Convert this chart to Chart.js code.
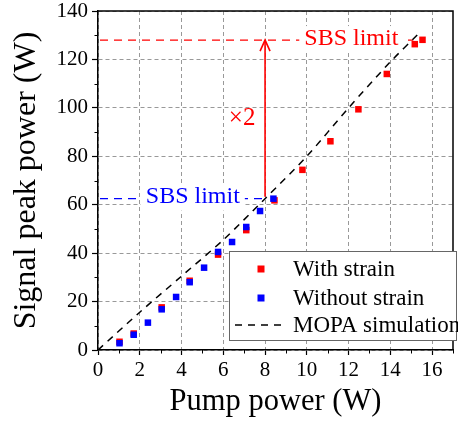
<!DOCTYPE html>
<html><head><meta charset="utf-8">
<script src="https://cdn.jsdelivr.net/npm/chart.js@4"></script>
<style>html,body{margin:0;padding:0;background:#fff;}canvas{display:block;}</style>
</head><body>
<canvas id="c" width="458" height="424"></canvas>
<script>
// ---- data ----
const strainPump    = [1.03, 1.71, 3.05, 4.39, 5.75, 7.10, 8.45, 9.79, 11.13, 12.47, 13.83, 15.17, 15.54];
const strainPower   = [3.4, 6.8, 17.6, 28.6, 39.4, 49.5, 61.8, 74.4, 86.2, 99.4, 114.0, 126.3, 128.1];
const noStrainPump  = [1.03, 1.71, 2.39, 3.05, 3.74, 4.39, 5.08, 5.75, 6.42, 7.10, 7.76, 8.40];
const noStrainPower = [2.8, 6.3, 11.3, 16.8, 21.9, 28.0, 34.0, 40.5, 44.6, 50.8, 57.4, 62.5];
const mopaPump      = [0, 2, 4, 6, 8, 10, 12, 14, 15.3];
const mopaPower     = [0, 15.6, 30.5, 45.5, 62.5, 80, 100, 119, 130.2];
const sbsLimitPower = [62.5, 128];      // without strain, with strain
const sbsLimitEndPump = [7.9, 15.1];
const sbsLabelPump  = [4.54, 12.13];
const arrowPump     = [8];
const gainText      = '×2';
const gainAt        = [6.9, 95.5];
const sbsText       = 'SBS limit';
const seriesNames   = ['With strain', 'Without strain', 'MOPA simulation'];
const xTickValues   = [0, 2, 4, 6, 8, 10, 12, 14, 16];
const yTickValues   = [0, 20, 40, 60, 80, 100, 120, 140];
const xMinorValues  = [1, 3, 5, 7, 9, 11, 13, 15, 17];
const yMinorValues  = [10, 30, 50, 70, 90, 110, 130];
const xTitle = 'Pump power (W)';
const yTitle = 'Signal peak power (W)';

const FONT = "'Liberation Serif', 'Times New Roman', serif";
const RED = '#ff0000', BLUE = '#0000ff';

const pts = (xs, ys) => xs.map((v, i) => ({x: v, y: ys[i]}));

const extras = {
  id: 'extras',
  beforeDatasetsDraw(chart) {
    const {ctx, scales: {x, y}} = chart;
    ctx.save();
    // minor ticks
    ctx.strokeStyle = '#000'; ctx.lineWidth = 1;
    xMinorValues.forEach(v => {
      const px = Math.round(x.getPixelForValue(v)) + 0.5;
      ctx.beginPath(); ctx.moveTo(px, y.bottom); ctx.lineTo(px, y.bottom + 3.5); ctx.stroke();
    });
    yMinorValues.forEach(v => {
      const py = Math.round(y.getPixelForValue(v)) + 0.5;
      ctx.beginPath(); ctx.moveTo(x.left, py); ctx.lineTo(x.left - 3.5, py); ctx.stroke();
    });
    // SBS limit lines and labels
    const cols = [BLUE, RED];
    sbsLimitPower.forEach((p, i) => {
      const py = y.getPixelForValue(p);
      ctx.strokeStyle = cols[i]; ctx.lineWidth = 1.3; ctx.setLineDash([8, 6]);
      ctx.beginPath(); ctx.moveTo(x.left + 2, py); ctx.lineTo(x.getPixelForValue(sbsLimitEndPump[i]), py); ctx.stroke();
      ctx.setLineDash([]);
      ctx.font = '24px ' + FONT;
      const w = ctx.measureText(sbsText).width;
      const cx = x.getPixelForValue(sbsLabelPump[i]);
      ctx.fillStyle = '#fff';
      ctx.fillRect(cx - w / 2 - 5, py - 14, w + 10, 26);
      ctx.fillStyle = cols[i]; ctx.textAlign = 'center'; ctx.textBaseline = 'middle';
      ctx.fillText(sbsText, cx, py - 1.5);
    });
    // arrow
    const ax = x.getPixelForValue(arrowPump[0]);
    const y0 = y.getPixelForValue(sbsLimitPower[0]), y1 = y.getPixelForValue(sbsLimitPower[1]);
    ctx.strokeStyle = RED; ctx.lineWidth = 1.6;
    ctx.beginPath(); ctx.moveTo(ax, y0 - 2); ctx.lineTo(ax, y1); ctx.stroke();
    ctx.beginPath(); ctx.moveTo(ax - 5, y1 + 11); ctx.lineTo(ax, y1); ctx.lineTo(ax + 5, y1 + 11); ctx.stroke();
    ctx.font = '25px ' + FONT; ctx.fillStyle = RED; ctx.textAlign = 'center'; ctx.textBaseline = 'middle';
    ctx.fillText(gainText, x.getPixelForValue(gainAt[0]), y.getPixelForValue(gainAt[1]));
    ctx.restore();
  },
  afterDraw(chart) {
    const {ctx, chartArea: a} = chart;
    ctx.save();
    // top and right frame
    ctx.strokeStyle = '#000'; ctx.lineWidth = 1.5;
    ctx.beginPath(); ctx.moveTo(a.left, a.top); ctx.lineTo(a.right, a.top); ctx.lineTo(a.right, a.bottom); ctx.stroke();
    // legend box
    const L = 229.5, T = 251.5, W = 227, H = 89;
    ctx.fillStyle = '#fff'; ctx.fillRect(L, T, W, H);
    ctx.strokeStyle = '#666'; ctx.lineWidth = 1; ctx.strokeRect(L, T, W, H);
    const ds = chart.data.datasets;
    const rows = [269, 298, 325];
    ctx.font = '23px ' + FONT; ctx.textAlign = 'left'; ctx.textBaseline = 'middle';
    ds.forEach((d, i) => {
      const cy = rows[i];
      if (d.showLine) {
        ctx.strokeStyle = d.borderColor; ctx.lineWidth = 1.5; ctx.setLineDash([7, 6]);
        ctx.beginPath(); ctx.moveTo(235, cy); ctx.lineTo(284, cy); ctx.stroke(); ctx.setLineDash([]);
      } else {
        ctx.fillStyle = d.backgroundColor; ctx.fillRect(257.5, cy - 3.5, 7, 7);
      }
      ctx.fillStyle = '#000';
      ctx.fillText(d.label, 293, cy + 1);
    });
    ctx.restore();
  }
};

new Chart(document.getElementById('c'), {
  type: 'scatter',
  data: {
    datasets: [
      {label: seriesNames[0], data: pts(strainPump, strainPower), backgroundColor: RED, borderColor: RED,
       pointStyle: 'rect', pointRadius: 4.6, borderWidth: 0, order: 2},
      {label: seriesNames[1], data: pts(noStrainPump, noStrainPower), backgroundColor: BLUE, borderColor: BLUE,
       pointStyle: 'rect', pointRadius: 4.6, borderWidth: 0, order: 1},
      {label: seriesNames[2], data: pts(mopaPump, mopaPower), showLine: true, borderColor: '#000', backgroundColor: '#000',
       borderWidth: 1.5, borderDash: [7, 6], pointRadius: 0, tension: 0.3, order: 3}
    ]
  },
  options: {
    responsive: false, animation: false, devicePixelRatio: 1,
    layout: {padding: {top: 11, right: 5, left: 0, bottom: 0}},
    plugins: {legend: {display: false}, tooltip: {enabled: false}},
    scales: {
      x: {
        type: 'linear', min: 0, max: 17,
        afterBuildTicks: s => { s.ticks = xTickValues.map(v => ({value: v})); },
        afterFit: s => { s.height = 74; s.paddingLeft = 0; s.paddingRight = 0; },
        ticks: {font: {family: FONT, size: 21}, color: '#000', padding: 3, maxRotation: 0},
        grid: {color: '#999', lineWidth: 1, tickLength: 5, tickColor: '#000', tickWidth: 1.2},
        border: {color: '#000', width: 1.5, dash: [4, 3]},
        title: {display: true, text: xTitle, font: {family: FONT, size: 30.5}, color: '#000', padding: {top: 0, bottom: 4}}
      },
      y: {
        type: 'linear', min: 0, max: 140,
        afterBuildTicks: s => { s.ticks = yTickValues.map(v => ({value: v})); },
        afterFit: s => { s.width = 98; s.paddingTop = 0; s.paddingBottom = 0; },
        ticks: {font: {family: FONT, size: 21}, color: '#000', padding: 4},
        grid: {color: '#999', lineWidth: 1, tickLength: 6, tickColor: '#000', tickWidth: 1.2},
        border: {color: '#000', width: 1.5, dash: [4, 3]},
        title: {display: true, text: yTitle, font: {family: FONT, size: 32}, color: '#000', padding: {top: 7, bottom: 0}}
      }
    }
  },
  plugins: [extras]
});
</script>
</body></html>
